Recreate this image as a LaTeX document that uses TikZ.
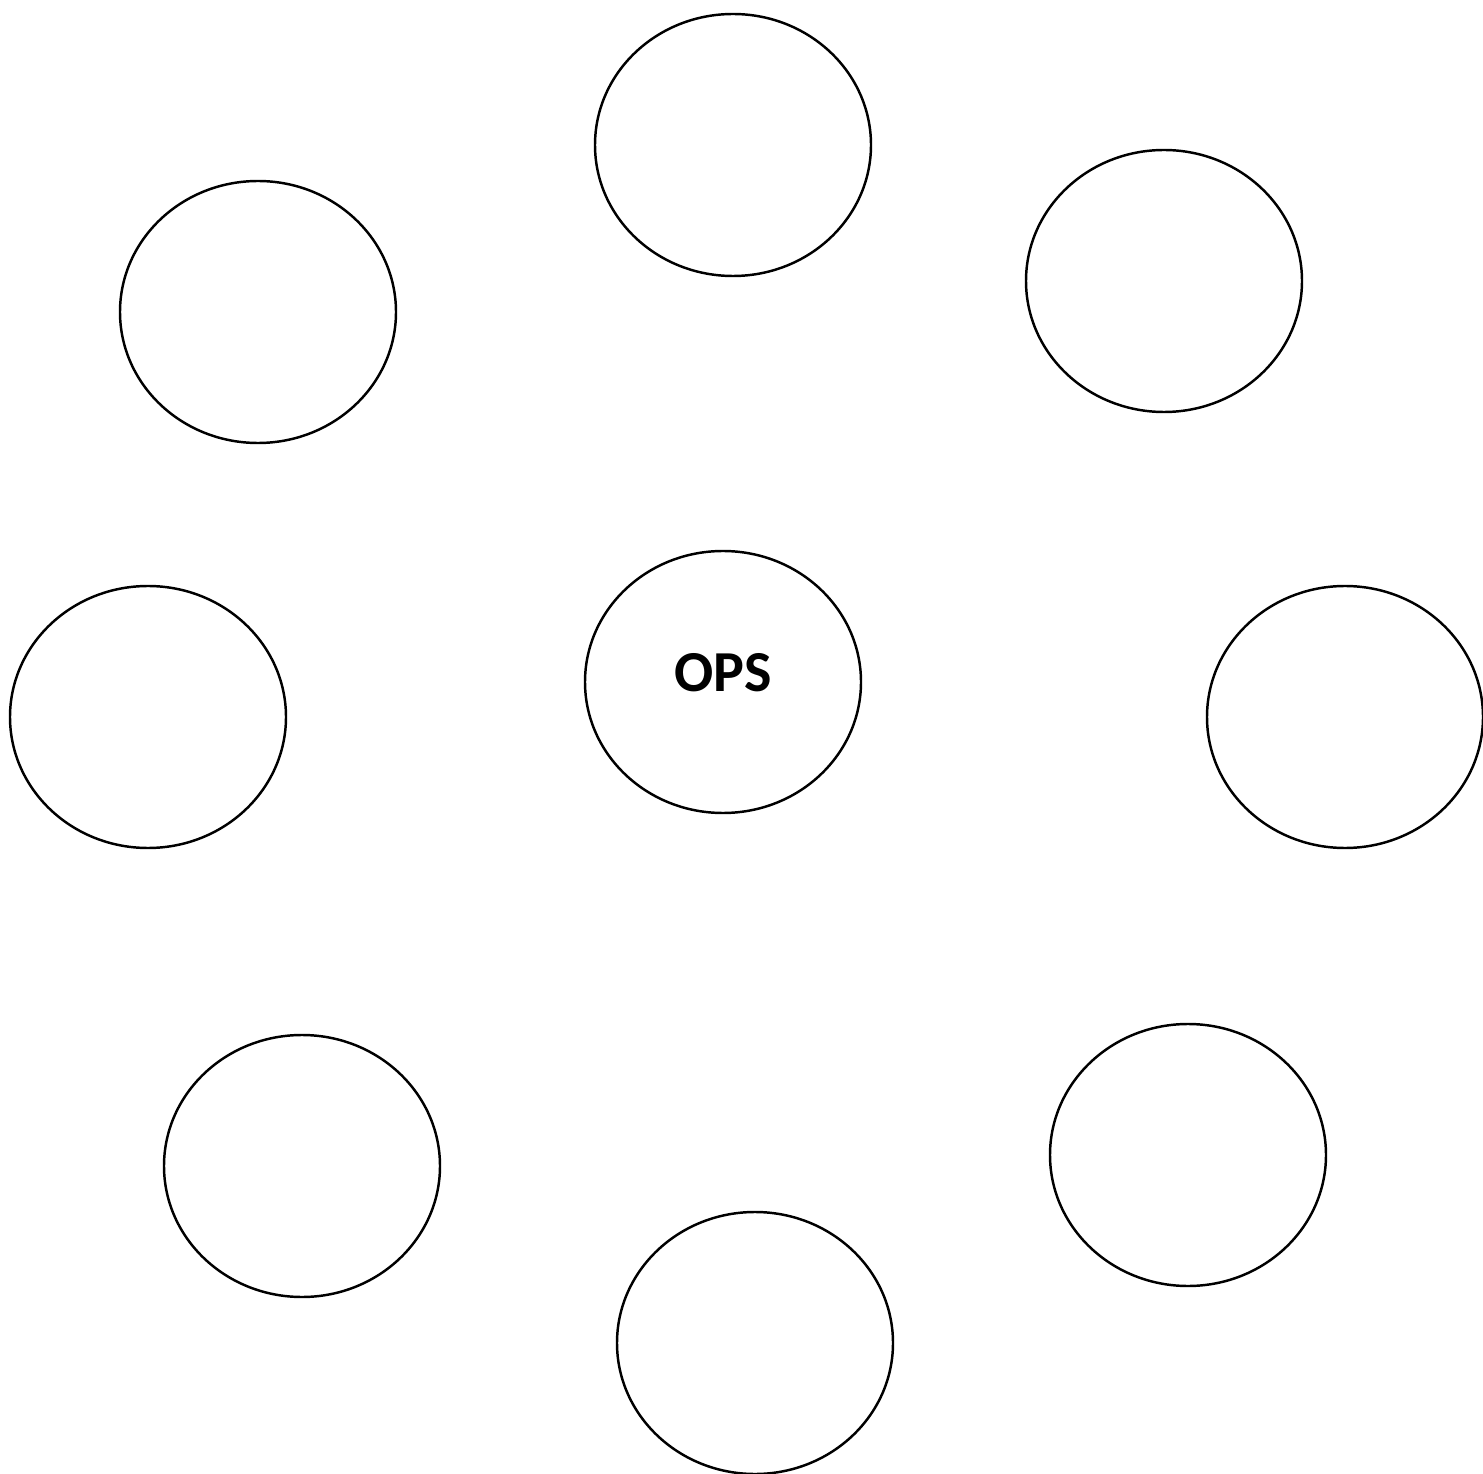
\documentclass[tikz,border=0pt]{standalone}
\usepackage{fontspec}
\setmainfont{Carlito}
\usetikzlibrary{shapes.geometric}

\begin{document}
\begin{tikzpicture}[
every path/.append style = {line width=1.4pt},
     E/.style = {ellipse, draw, inner sep=0pt,
                 minimum width=5.52cm, minimum height=5.24cm},
     L/.style = {font=\fontsize{33}{40}\selectfont\bfseries, text depth=0.4cm}
                    ]
\useasboundingbox (0,0) rectangle (29.66,-29.48);
\node (ops)   [E, L] at (14.46,-13.64) {OPS};
%
\node (top)   [E] at (14.66,-2.90)  {};
\node (upr)   [E] at (23.28,-5.62)  {};
\node (rgt)   [E] at (26.90,-14.34) {};
\node (lwr)   [E] at (23.76,-23.10) {};
\node (bot)   [E] at (15.10,-26.86) {};
\node (lwl)   [E] at (6.04,-23.32)  {};
\node (lft)   [E] at (2.96,-14.34)  {};
\node (upl)   [E] at (5.16,-6.24)   {};
\end{tikzpicture}
\end{document}
